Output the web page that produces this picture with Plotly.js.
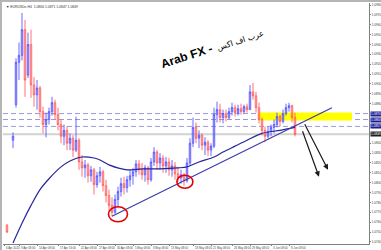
<!DOCTYPE html>
<html>
<head>
<meta charset="utf-8">
<script src="https://cdn.plot.ly/plotly-3.0.1.min.js"></script>
<style>
  html, body { margin: 0; padding: 0; background: #b4b4b4; width: 381px; height: 250px; overflow: hidden; }
  #chart { position: absolute; left: 2px; top: 2px; width: 379px; height: 248px; background: #fff; }
</style>
</head>
<body>
<div id="chart"></div>
<script>
// EURUSD H4 candles (bar index, OHLC); bar 1 has no quote
const opens = [1.0757, null,
  1.0843, 1.0879, 1.0922, 1.0929, 1.0955, 1.0909, 1.0940, 1.0899, 1.0889, 1.0896,
  1.0872, 1.0859, 1.0864, 1.0872, 1.0881, 1.0869, 1.0859, 1.0847, 1.0853, 1.0840,
  1.0845, 1.0833, 1.0843, 1.0821, 1.0815, 1.0818, 1.0807, 1.0813, 1.0798, 1.0807,
  1.0811, 1.0797, 1.0787, 1.0777, 1.0770, 1.0783, 1.0791, 1.0799, 1.0795, 1.0803,
  1.0807, 1.0811, 1.0819, 1.0813, 1.0808, 1.0815, 1.0803, 1.0821, 1.0831, 1.0820,
  1.0825, 1.0817, 1.0821, 1.0813, 1.0817, 1.0809, 1.0805, 1.0808, 1.0802, 1.0820,
  1.0840, 1.0856, 1.0845, 1.0848, 1.0838, 1.0841, 1.0833, 1.0837, 1.0869, 1.0874,
  1.0866, 1.0870, 1.0866, 1.0872, 1.0876, 1.0871, 1.0875, 1.0872, 1.0877, 1.0874,
  1.0892, 1.0888, 1.0876, 1.0864, 1.0853, 1.0847, 1.0852, 1.0856, 1.0859, 1.0867,
  1.0862, 1.0870, 1.0876, 1.0878, 1.0866];
const highs = [1.0758, null,
  1.0851, 1.0926, 1.0942, 1.0972, 1.0965, 1.0952, 1.0955, 1.0907, 1.0904, 1.0898,
  1.0877, 1.0871, 1.0876, 1.0887, 1.0884, 1.0876, 1.0864, 1.0859, 1.0857, 1.0850,
  1.0848, 1.0867, 1.0845, 1.0828, 1.0823, 1.0820, 1.0817, 1.0815, 1.0811, 1.0816,
  1.0813, 1.0803, 1.0793, 1.0785, 1.0788, 1.0796, 1.0805, 1.0806, 1.0807, 1.0813,
  1.0815, 1.0823, 1.0823, 1.0820, 1.0818, 1.0817, 1.0825, 1.0836, 1.0833, 1.0830,
  1.0828, 1.0826, 1.0825, 1.0823, 1.0821, 1.0816, 1.0813, 1.0810, 1.0825, 1.0845,
  1.0866, 1.0861, 1.0853, 1.0850, 1.0846, 1.0843, 1.0840, 1.0876, 1.0882, 1.0880,
  1.0874, 1.0874, 1.0876, 1.0881, 1.0879, 1.0879, 1.0880, 1.0879, 1.0880, 1.0899,
  1.0901, 1.0892, 1.0881, 1.0866, 1.0857, 1.0857, 1.0859, 1.0864, 1.0871, 1.0869,
  1.0874, 1.0880, 1.0881, 1.0879, 1.0871];
const lows = [1.0749, null,
  1.0835, 1.0876, 1.0904, 1.0924, 1.0887, 1.0906, 1.0886, 1.0877, 1.0874, 1.0866,
  1.0850, 1.0846, 1.0859, 1.0868, 1.0864, 1.0853, 1.0840, 1.0838, 1.0833, 1.0833,
  1.0826, 1.0831, 1.0813, 1.0806, 1.0805, 1.0800, 1.0801, 1.0788, 1.0795, 1.0800,
  1.0791, 1.0780, 1.0772, 1.0766, 1.0768, 1.0775, 1.0786, 1.0788, 1.0790, 1.0796,
  1.0798, 1.0806, 1.0808, 1.0803, 1.0801, 1.0798, 1.0801, 1.0817, 1.0813, 1.0813,
  1.0810, 1.0810, 1.0807, 1.0806, 1.0803, 1.0801, 1.0799, 1.0797, 1.0800, 1.0817,
  1.0836, 1.0840, 1.0835, 1.0833, 1.0828, 1.0827, 1.0827, 1.0835, 1.0861, 1.0861,
  1.0860, 1.0862, 1.0864, 1.0868, 1.0867, 1.0868, 1.0869, 1.0870, 1.0871, 1.0874,
  1.0884, 1.0871, 1.0860, 1.0848, 1.0841, 1.0845, 1.0847, 1.0850, 1.0856, 1.0857,
  1.0860, 1.0868, 1.0872, 1.0861, 1.0847];
const closes = [1.0750, null,
  1.0847, 1.0922, 1.0929, 1.0955, 1.0904, 1.0940, 1.0899, 1.0889, 1.0896, 1.0872,
  1.0859, 1.0864, 1.0872, 1.0881, 1.0869, 1.0859, 1.0847, 1.0853, 1.0840, 1.0845,
  1.0833, 1.0843, 1.0821, 1.0815, 1.0818, 1.0807, 1.0813, 1.0798, 1.0807, 1.0811,
  1.0797, 1.0787, 1.0777, 1.0770, 1.0783, 1.0791, 1.0799, 1.0795, 1.0803, 1.0807,
  1.0811, 1.0819, 1.0813, 1.0808, 1.0815, 1.0803, 1.0821, 1.0831, 1.0820, 1.0825,
  1.0817, 1.0821, 1.0813, 1.0817, 1.0809, 1.0805, 1.0808, 1.0802, 1.0820, 1.0840,
  1.0856, 1.0845, 1.0848, 1.0838, 1.0841, 1.0833, 1.0837, 1.0869, 1.0874, 1.0866,
  1.0870, 1.0866, 1.0872, 1.0876, 1.0871, 1.0875, 1.0872, 1.0877, 1.0874, 1.0892,
  1.0888, 1.0876, 1.0864, 1.0853, 1.0847, 1.0852, 1.0856, 1.0859, 1.0867, 1.0862,
  1.0870, 1.0876, 1.0878, 1.0866, 1.0849];

// Moving average line (bar index, value)
const maBars   = [2, 5, 8, 11, 14, 18, 21, 25, 29, 31, 34, 40, 45, 51, 57, 60, 64, 69, 72, 76, 80, 85, 91, 96];
const maValues = [1.0739, 1.0759, 1.0777, 1.0793, 1.0804, 1.0816, 1.0822, 1.0826, 1.0825, 1.0823, 1.0818, 1.0813,
                  1.0814, 1.0814, 1.0815, 1.0816, 1.0821, 1.0826, 1.0831, 1.0837, 1.0843, 1.0850, 1.0853, 1.0856];

// Horizontal levels and supply zone
const levels = [1.0870, 1.0864, 1.0857];
const zoneTop = 1.0871, zoneBottom = 1.0863;

// Price scale labels (the ones under the level tags are left out)
const priceTicks = [1.0740, 1.0750, 1.0760, 1.0770, 1.0780, 1.0790, 1.0800, 1.0810, 1.0820, 1.0830, 1.0840,
                    1.0880, 1.0890, 1.0900, 1.0910, 1.0920, 1.0930, 1.0940, 1.0950, 1.0960, 1.0970, 1.0980];

// Time axis labels
const dateTicks  = [-1, 4, 10, 17, 24, 30, 36, 42, 48, 54, 62, 68, 75, 81, 88, 94];
const dateLabels = ["6 Apr 2020", "9 Apr 08:00", "14 Apr 08:00", "17 Apr 16:00", "22 Apr 08:00", "27 Apr 08:00",
                    "30 Apr 08:00", "5 May 08:00", "8 May 08:00", "13 May 08:00", "18 May 08:00", "21 May 08:00",
                    "26 May 08:00", "29 May 08:00", "3 Jun 08:00", "8 Jun 08:00"];

const bars = opens.map((_, i) => i);
const last = opens.length - 1;

// Rising trendline through the swing low
const trendStartBar = 35, trendEndBar = 108.3, trendSlope = 0.00015;
const trendStart = lows[trendStartBar];
const trendEnd = trendStart + (trendEndBar - trendStartBar) * trendSlope;

const traces = [
  {
    type: 'candlestick', x: bars, open: opens, high: highs, low: lows, close: closes,
    increasing: { line: { color: 'rgba(80,80,255,0.85)', width: 1 }, fillcolor: 'rgba(150,150,255,0.6)' },
    decreasing: { line: { color: 'rgba(255,90,90,0.85)', width: 1 }, fillcolor: 'rgba(255,160,160,0.6)' },
    whiskerwidth: 0, hoverinfo: 'skip'
  },
  {
    type: 'scatter', mode: 'lines', x: maBars, y: maValues,
    line: { color: '#26269a', width: 1.2, shape: 'spline', smoothing: 0.8 }, hoverinfo: 'skip'
  }
];

const shapes = [
  { type: 'rect', xref: 'x', yref: 'y', x0: 83.7, x1: 115, y0: zoneBottom, y1: zoneTop,
    fillcolor: '#ffff00', line: { width: 0 }, layer: 'below' },
  ...levels.map(v => ({ type: 'line', xref: 'paper', yref: 'y', x0: 0, x1: 1, y0: v, y1: v,
    line: { color: '#9a9ae0', width: 1, dash: '5px,3px' }, layer: 'below' })),
  { type: 'line', xref: 'paper', yref: 'y', x0: 0, x1: 1, y0: closes[last], y1: closes[last],
    line: { color: '#d2d2d2', width: 2 }, layer: 'below' },
  { type: 'line', xref: 'x', yref: 'y', x0: trendStartBar, x1: trendEndBar, y0: trendStart, y1: trendEnd,
    line: { color: '#3a3aa8', width: 1.1 } },
  { type: 'circle', xref: 'x', yref: 'y', xsizemode: 'pixel', ysizemode: 'pixel',
    xanchor: 37, yanchor: 1.0768, x0: -9.5, x1: 9.5, y0: -7.5, y1: 7.5,
    line: { color: '#e00000', width: 1.6 } },
  { type: 'circle', xref: 'x', yref: 'y', xsizemode: 'pixel', ysizemode: 'pixel',
    xanchor: 59.3, yanchor: 1.0801, x0: -8, x1: 8, y0: -6.5, y1: 6.5,
    line: { color: '#e00000', width: 1.6 } }
];

const priceTag = (v, bg) => ({
  xref: 'paper', yref: 'y', x: 1, y: v, xanchor: 'left', yanchor: 'middle', xshift: 1,
  text: v.toFixed(4), showarrow: false, bgcolor: bg, borderpad: 0,
  font: { family: 'Liberation Sans', size: 3.2, color: '#ffffff' }
});

// Date labels sit just under the time axis, left-aligned on their tick
const dateTag = (bar, label) => ({
  xref: 'x', yref: 'paper', x: bar, y: 0, xanchor: 'left', yanchor: 'top', xshift: 0.5, yshift: -0.5,
  text: label, showarrow: false, borderpad: 0,
  font: { family: 'Liberation Sans', size: 2.8, color: '#444' }
});

const annotations = [
  { xref: 'paper', yref: 'paper', x: 0.003, y: 0.999, xanchor: 'left', yanchor: 'top', showarrow: false,
    text: '▼ EURUSDe,H4  ' + [opens[last], highs[last], lows[last], closes[last]].map(v => v.toFixed(4)).join(' '),
    font: { family: 'Liberation Sans', size: 3.4, color: '#333' } },
  { xref: 'paper', yref: 'paper', x: 0.5027, y: 0.780, xanchor: 'center', yanchor: 'middle',
    showarrow: false, textangle: -18,
    text: '<b>Arab FX -</b>', font: { family: 'Liberation Sans', size: 12, color: '#000' } },
  { xref: 'paper', yref: 'paper', x: 0.650, y: 0.846, xanchor: 'center', yanchor: 'middle',
    showarrow: false, textangle: -18,
    text: 'عرب اف اكس', font: { family: 'DejaVu Sans', size: 8, color: '#000' } },
  { xref: 'x', yref: 'y', x: 104, y: 1.0806, ax: -17, ay: -47, axref: 'pixel', ayref: 'pixel',
    showarrow: true, arrowhead: 2, arrowsize: 0.9, arrowwidth: 1.2, arrowcolor: '#1a1a1a', text: '' },
  { xref: 'x', yref: 'y', x: 107, y: 1.0813, ax: -24, ay: -47, axref: 'pixel', ayref: 'pixel',
    showarrow: true, arrowhead: 2, arrowsize: 0.9, arrowwidth: 1.2, arrowcolor: '#1a1a1a', text: '' },
  ...levels.map(v => priceTag(v, '#1c1c96')),
  priceTag(closes[last], '#202020'),
  ...dateTicks.map((b, i) => dateTag(b, dateLabels[i]))
];

const layout = {
  width: 379, height: 248,
  margin: { l: 1, r: 12, t: 1, b: 6 },
  paper_bgcolor: '#ffffff', plot_bgcolor: '#ffffff',
  showlegend: false,
  xaxis: {
    type: 'linear', range: [-1.333, 120.667], rangeslider: { visible: false },
    showgrid: false, zeroline: false, showline: true, linecolor: '#808080', linewidth: 1,
    tickvals: dateTicks, showticklabels: false, ticks: 'outside', ticklen: 1, tickcolor: '#808080',
    automargin: false
  },
  yaxis: {
    side: 'right', range: [1.073787, 1.098205],
    showgrid: false, zeroline: false, showline: true, linecolor: '#808080', linewidth: 1,
    tickvals: priceTicks, tickformat: '.4f', ticks: 'outside', ticklen: 1, tickcolor: '#808080',
    ticklabelstandoff: 0, automargin: false,
    tickfont: { family: 'Liberation Sans', size: 3.2, color: '#444' }
  },
  shapes: shapes,
  annotations: annotations
};

Plotly.newPlot('chart', traces, layout, { staticPlot: true, displayModeBar: false });
</script>
</body>
</html>
